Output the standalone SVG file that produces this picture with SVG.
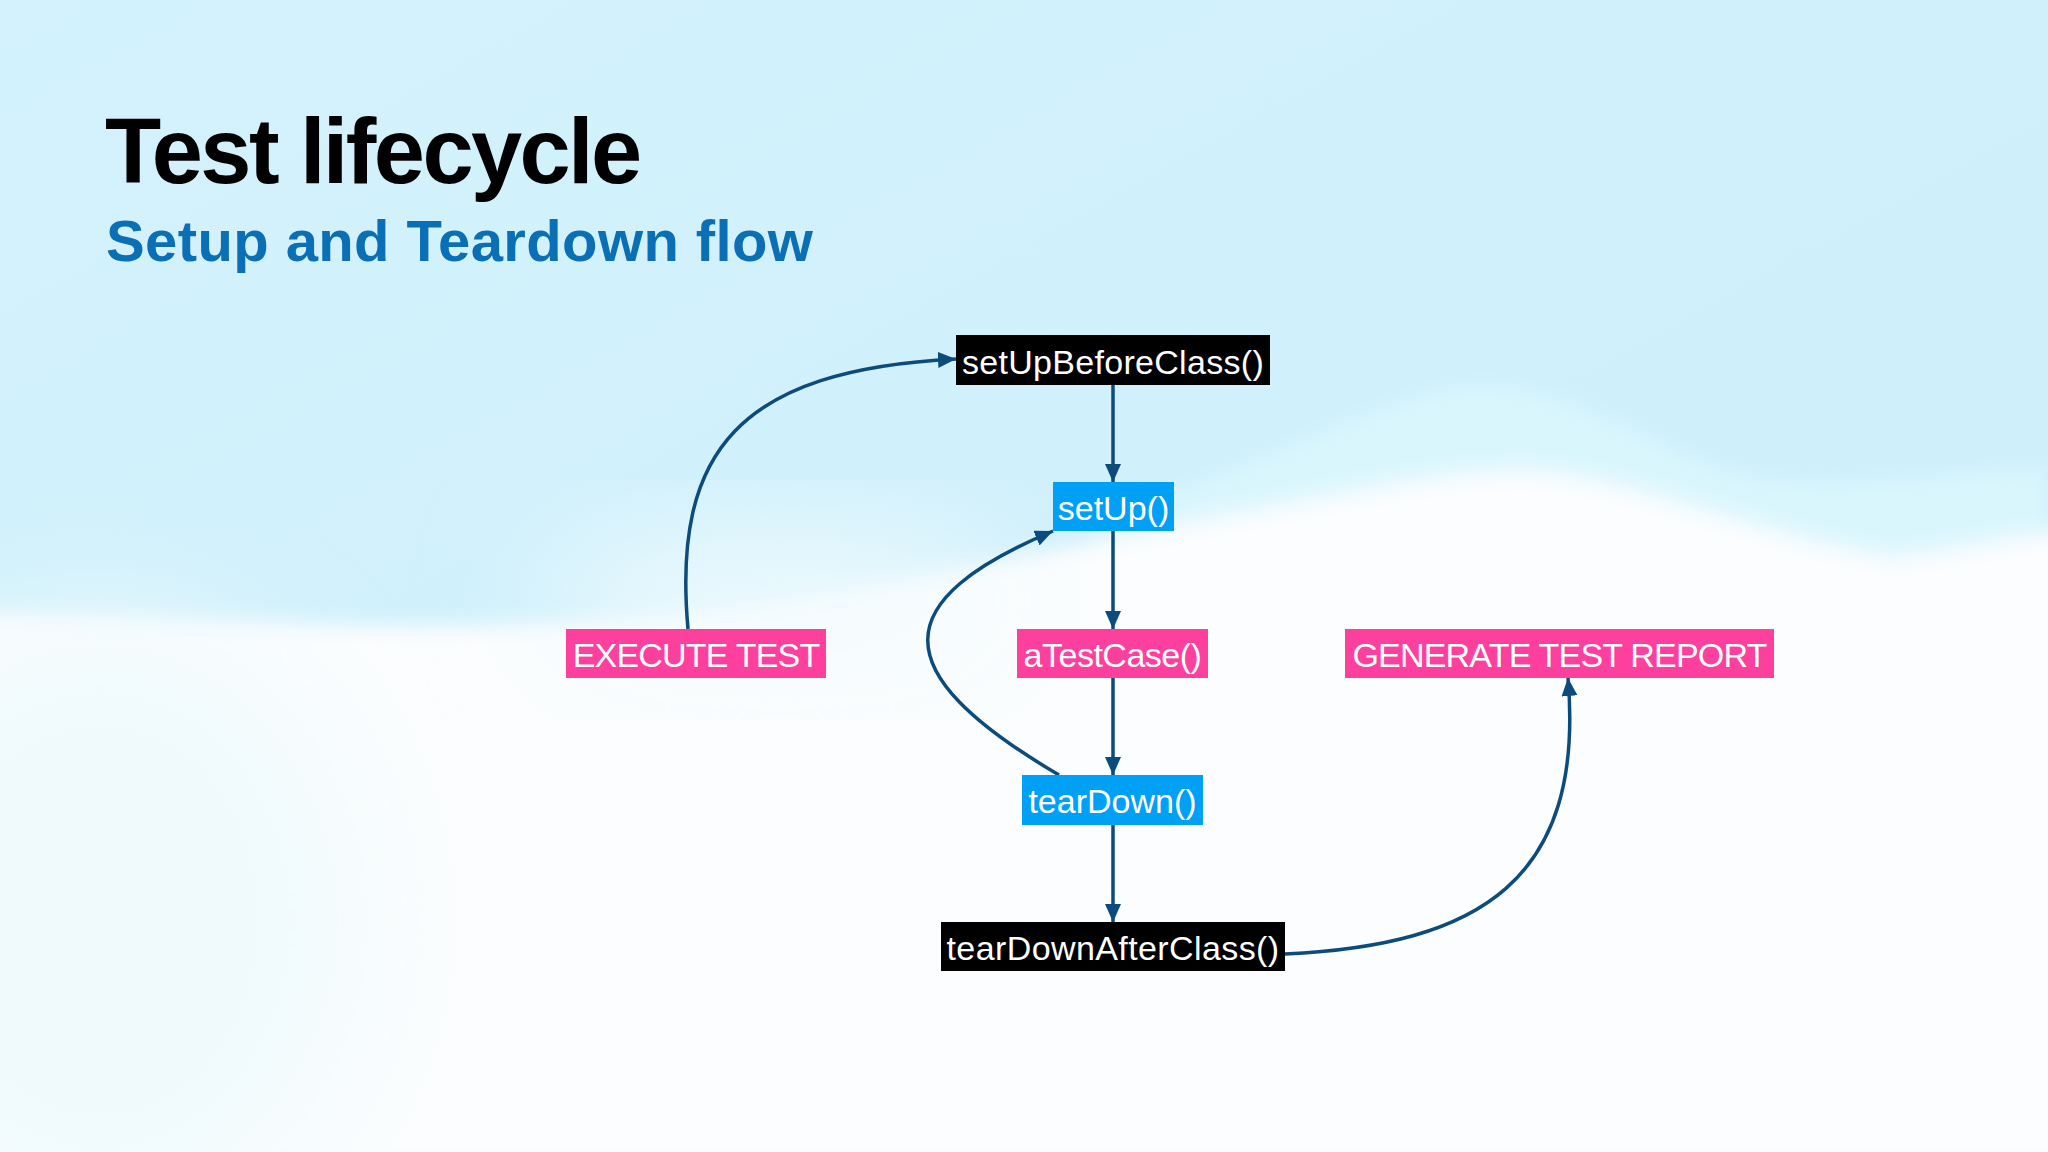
<svg xmlns="http://www.w3.org/2000/svg" width="2048" height="1152" viewBox="0 0 2048 1152">
  <defs>
    <linearGradient id="sky" x1="0" y1="0" x2="1" y2="1">
      <stop offset="0" stop-color="#d3f2fc"/>
      <stop offset="1" stop-color="#cdeefb"/>
    </linearGradient>
    <filter id="blur12" x="-20%" y="-20%" width="140%" height="140%">
      <feGaussianBlur stdDeviation="10"/>
    </filter>
    <filter id="blur40" x="-50%" y="-50%" width="200%" height="200%">
      <feGaussianBlur stdDeviation="60"/>
    </filter>
    <marker id="arrow" markerUnits="userSpaceOnUse" markerWidth="20" markerHeight="18" refX="18" refY="8" orient="auto">
      <path d="M0,0 L18,8 L0,16 Z" fill="#0b4c7c"/>
    </marker>
    <style>
      .title { font-family: "Liberation Sans", Arial, sans-serif; font-weight: bold; }
      .lbl { font-family: "Liberation Sans", Arial, sans-serif; font-size: 34px; fill: #ffffff; text-anchor: middle; }
      .caps { letter-spacing: -0.8px; }
      .black { fill: #000000; }
      .blue { fill: #00a0f5; }
      .pink { fill: #fd409d; }
      .edge { fill: none; stroke: #0b4c7c; stroke-width: 3.5; marker-end: url(#arrow); }
    </style>
  </defs>

  <g id="background">
    <rect x="0" y="0" width="2048" height="1152" fill="url(#sky)"/>
    <path d="M1100,520 C1250,470 1380,400 1460,388 C1540,378 1620,430 1720,470 C1820,500 1950,470 2048,470 L2048,600 L1100,600 Z" fill="#daf6fd" filter="url(#blur12)"/>
    <path d="M-20,614 C250,620 420,635 640,618 C820,604 1000,560 1200,520 C1330,496 1440,470 1523,470 C1620,472 1760,535 1893,557 C1960,548 2010,538 2070,528 L2070,1170 L-20,1170 Z" fill="#fbfdfe" filter="url(#blur12)"/>
    <ellipse cx="780" cy="600" rx="240" ry="60" fill="#f2fbfe" filter="url(#blur40)"/>
    <ellipse cx="100" cy="920" rx="260" ry="300" fill="#f0fafd" filter="url(#blur40)"/>
  </g>

  <g id="heading">
    <text class="title" x="105" y="183" font-size="92" letter-spacing="-2.6" fill="#000000">Test lifecycle</text>
    <text class="title" x="106" y="261" font-size="58" letter-spacing="0.4" fill="#0a6fb5">Setup and Teardown flow</text>
  </g>

  <g id="connectors">
    <path class="edge" d="M688,629 C672,450 740,370 956,359"/>
    <path class="edge" d="M1113,385 L1113,482"/>
    <path class="edge" d="M1113,531 L1113,629"/>
    <path class="edge" d="M1113,678 L1113,775"/>
    <path class="edge" d="M1113,825 L1113,922"/>
    <path class="edge" d="M1059,775 C880,670 890,600 1053,531"/>
    <path class="edge" d="M1285,954 C1480,945 1585,880 1568,678"/>
  </g>

  <g id="node-setUpBeforeClass">
    <rect class="black" x="956" y="335" width="314" height="50"/>
    <text class="lbl" x="1113" y="374" letter-spacing="0.3">setUpBeforeClass()</text>
  </g>
  <g id="node-setUp">
    <rect class="blue" x="1053" y="482" width="121" height="49"/>
    <text class="lbl" x="1113.5" y="520">setUp()</text>
  </g>
  <g id="node-execute-test">
    <rect class="pink" x="566" y="629" width="260" height="49"/>
    <text class="lbl caps" x="696" y="667">EXECUTE TEST</text>
  </g>
  <g id="node-aTestCase">
    <rect class="pink" x="1017" y="629" width="191" height="49"/>
    <text class="lbl" x="1112.5" y="667" letter-spacing="-0.5">aTestCase()</text>
  </g>
  <g id="node-generate-report">
    <rect class="pink" x="1345" y="629" width="429" height="49"/>
    <text class="lbl caps" x="1559.5" y="667">GENERATE TEST REPORT</text>
  </g>
  <g id="node-tearDown">
    <rect class="blue" x="1022" y="775" width="181" height="50"/>
    <text class="lbl" x="1112.5" y="813">tearDown()</text>
  </g>
  <g id="node-tearDownAfterClass">
    <rect class="black" x="941" y="922" width="344" height="49"/>
    <text class="lbl" x="1113" y="960" letter-spacing="0.4">tearDownAfterClass()</text>
  </g>
</svg>
